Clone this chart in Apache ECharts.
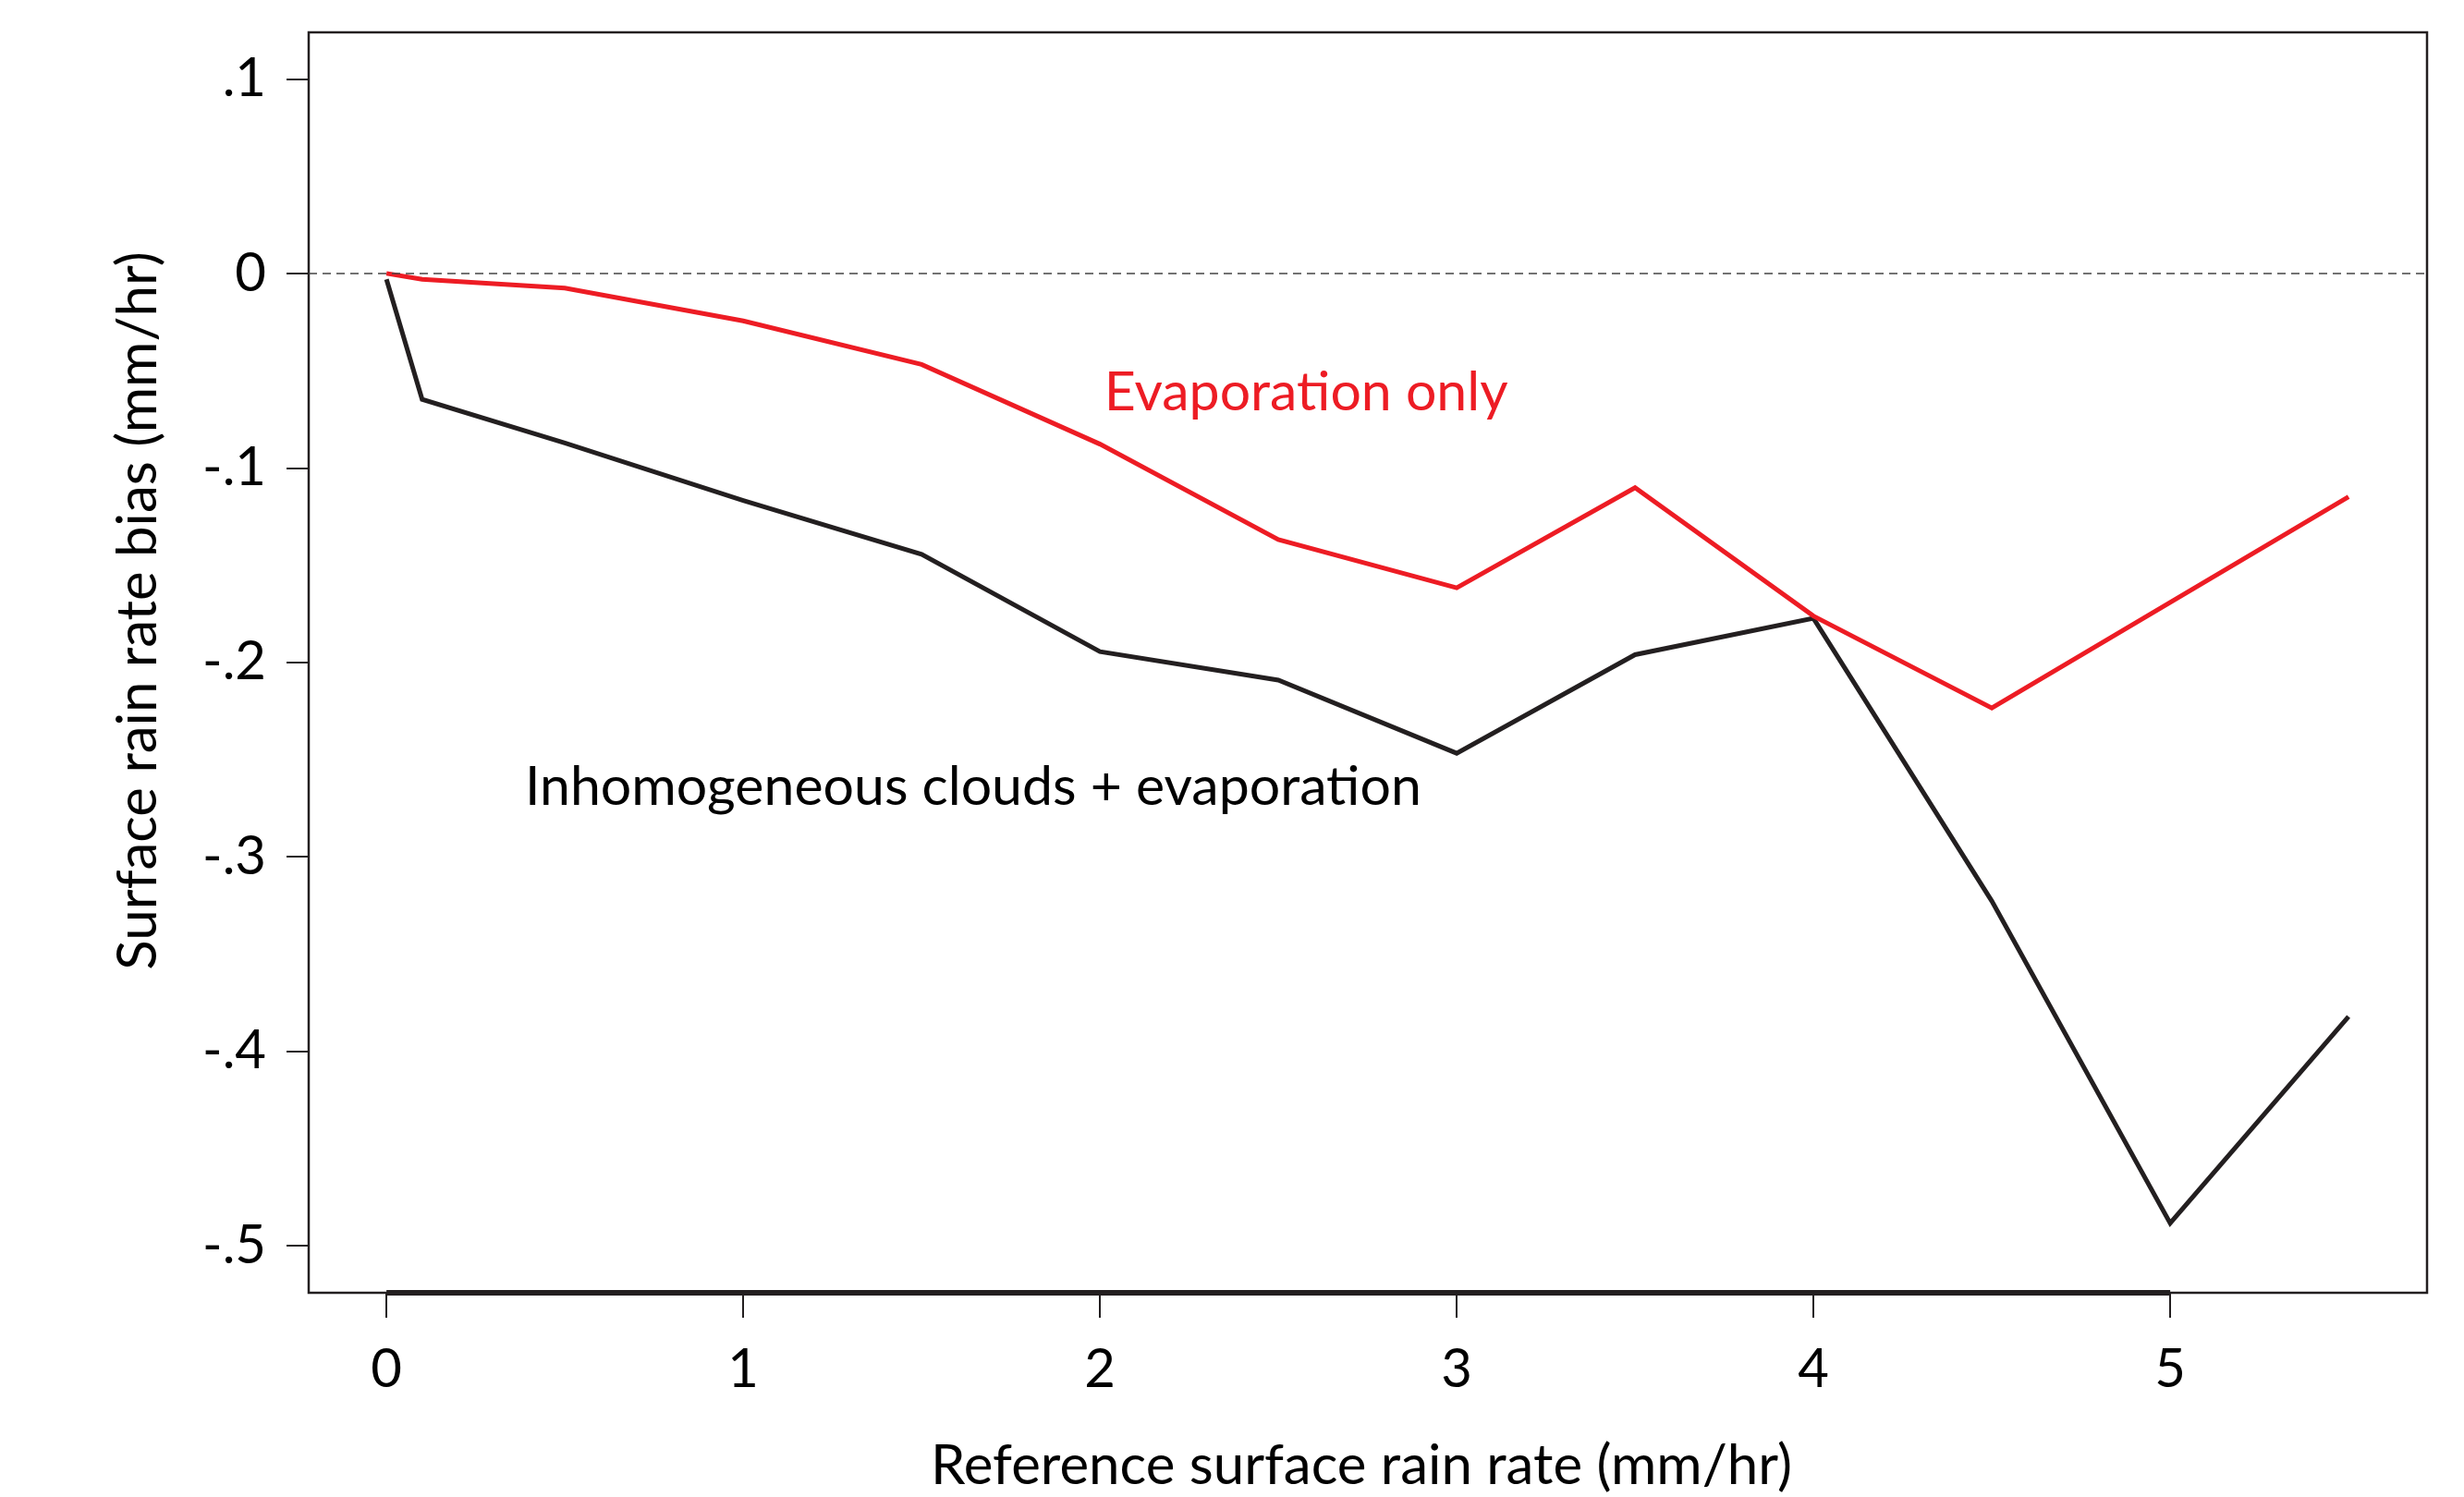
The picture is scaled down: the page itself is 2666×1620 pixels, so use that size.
<!DOCTYPE html>
<html>
<head>
<meta charset="utf-8">
<script src="https://cdn.jsdelivr.net/npm/echarts@6/dist/echarts.min.js"></script>
<style>
  html, body { margin: 0; padding: 0; background: #fff; }
  #main { width: 2666px; height: 1620px; }
</style>
</head>
<body>
<div id="main"></div>
<script>
// rain rate (mm/hr) on the x axis
var inhomX = [0, 0.1, 0.5, 1, 1.5, 2, 2.5, 3, 3.5, 4, 4.5, 5, 5.5];
var inhomBias = [-0.003, -0.0648, -0.0872, -0.1168, -0.1445, -0.1945, -0.2092, -0.2468, -0.1961, -0.1774, -0.3228, -0.4885, -0.3823];
var evapX = [0, 0.1, 0.5, 1, 1.5, 2, 2.5, 3, 3.5, 4, 4.5, 5.5];
var evapBias = [0, -0.003, -0.0075, -0.0244, -0.0468, -0.0878, -0.1369, -0.1617, -0.1102, -0.1762, -0.2235, -0.1149];

var xTicks = [0, 1, 2, 3, 4, 5];
var yTicks = [-0.5, -0.4, -0.3, -0.2, -0.1, 0, 0.1];

var X_MIN = -0.218, X_MAX = 5.72;
var Y_MIN = -0.5243, Y_MAX = 0.124;

var FONT = 'Lato';
var INK = '#231F20';
var RED = '#ED1C24';

function pairs(xs, ys) {
    var out = [];
    for (var i = 0; i < xs.length; i++) out.push([xs[i], ys[i]]);
    return out;
}

function yFmt(v) {
    var n = Math.round(v * 10);
    if (n === 0) return '0';
    return (n < 0 ? '-' : '') + '.' + Math.abs(n);
}

var myChart = echarts.init(document.getElementById('main'));

var option = {
    backgroundColor: '#fff',
    animation: false,
    grid: {
        left: 334, top: 35, right: 40, bottom: 221,
        show: true, borderColor: INK, borderWidth: 2.5, backgroundColor: 'transparent'
    },
    xAxis: {
        type: 'value', min: X_MIN, max: X_MAX,
        axisLine: { show: false, onZero: false },
        splitLine: { show: false },
        axisTick: {
            show: true, inside: false, length: 27, customValues: xTicks,
            lineStyle: { color: INK, width: 2 }
        },
        axisLabel: {
            customValues: xTicks, margin: 54,
            color: '#000', fontFamily: FONT, fontSize: 58
        }
    },
    yAxis: {
        type: 'value', min: Y_MIN, max: Y_MAX,
        axisLine: { show: false, onZero: false },
        splitLine: { show: false },
        axisTick: {
            show: true, inside: false, length: 24, customValues: yTicks,
            lineStyle: { color: INK, width: 2 }
        },
        axisLabel: {
            customValues: yTicks, margin: 46, formatter: yFmt,
            color: '#000', fontFamily: FONT, fontSize: 58
        }
    },
    series: [
        {
            name: 'Inhomogeneous clouds + evaporation',
            type: 'line',
            data: pairs(inhomX, inhomBias),
            showSymbol: false,
            clip: false,
            lineStyle: { color: INK, width: 5, join: 'miter' },
            markLine: {
                silent: true, symbol: 'none', label: { show: false },
                data: [
                    { yAxis: 0, lineStyle: { color: '#444', width: 1.5, type: [9, 6] } },
                    [
                        { coord: [0, Y_MIN], lineStyle: { color: INK, width: 6, type: 'solid' } },
                        { coord: [5, Y_MIN] }
                    ]
                ]
            }
        },
        {
            name: 'Evaporation only',
            type: 'line',
            data: pairs(evapX, evapBias),
            showSymbol: false,
            clip: false,
            lineStyle: { color: RED, width: 5, join: 'miter' }
        }
    ]
};

myChart.setOption(option);

// text labels placed in data space
var redAt = myChart.convertToPixel({ gridIndex: 0 }, [2.012, -0.0614]);
var blackAt = myChart.convertToPixel({ gridIndex: 0 }, [0.388, -0.2643]);

myChart.setOption({
    graphic: [
        {
            type: 'text', x: redAt[0], y: redAt[1],
            style: { text: 'Evaporation only', fill: RED, font: '59px ' + FONT, textAlign: 'left', textVerticalAlign: 'middle' }
        },
        {
            type: 'text', x: blackAt[0], y: blackAt[1],
            style: { text: 'Inhomogeneous clouds + evaporation', fill: '#000', font: '59px ' + FONT, textAlign: 'left', textVerticalAlign: 'middle' }
        },
        {
            type: 'text', x: 1473, y: 1587,
            style: { text: 'Reference surface rain rate (mm/hr)', fill: '#000', font: '60px ' + FONT, textAlign: 'center', textVerticalAlign: 'middle' }
        },
        {
            type: 'text', x: 150, y: 661, rotation: Math.PI / 2,
            style: { text: 'Surface rain rate bias (mm/hr)', fill: '#000', font: '60px ' + FONT, textAlign: 'center', textVerticalAlign: 'middle' }
        }
    ]
});
</script>
</body>
</html>
